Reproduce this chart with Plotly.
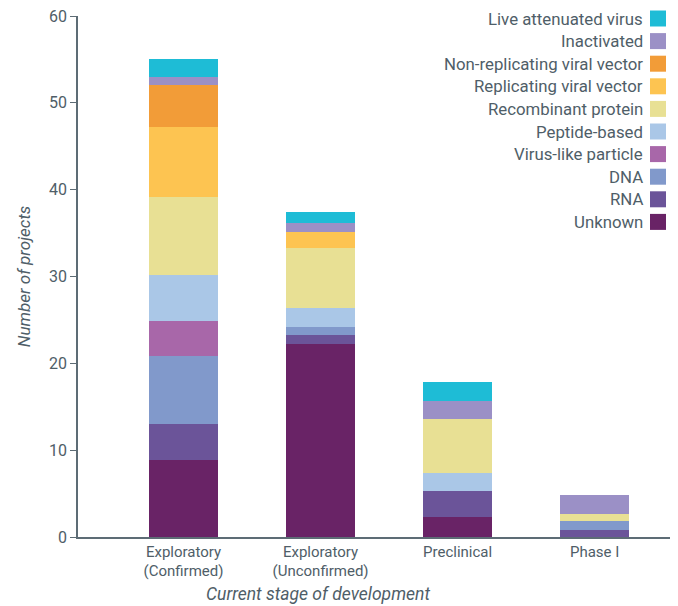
import plotly.graph_objects as go

categories = ["Exploratory<br>(Confirmed)", "Exploratory<br>(Unconfirmed)", "Preclinical", "Phase I"]

series_names = ["Unknown", "RNA", "DNA", "Virus-like particle", "Peptide-based",
                "Recombinant protein", "Replicating viral vector",
                "Non-replicating viral vector", "Inactivated", "Live attenuated virus"]

unknown = [8.9, 22.2, 2.3, 0.0]
rna = [4.1, 1.1, 3.0, 0.8]
dna = [7.8, 0.9, 0.0, 1.0]
vlp = [4.1, 0.0, 0.0, 0.0]
peptide = [5.3, 2.2, 2.1, 0.0]
recombinant = [9.0, 6.9, 6.2, 0.9]
replicating = [8.0, 1.8, 0.0, 0.0]
nonreplicating = [4.8, 0.0, 0.0, 0.0]
inactivated = [1.0, 1.1, 2.1, 2.1]
live = [2.1, 1.2, 2.1, 0.0]

series_values = [unknown, rna, dna, vlp, peptide, recombinant, replicating,
                 nonreplicating, inactivated, live]

colors = ["#692366", "#6b5499", "#8199cb", "#a867a9", "#aac7e7",
          "#e8e094", "#fdc451", "#f29c38", "#9b90c6", "#1ebcd6"]

text_color = "#4f5e68"
axis_color = "#5d6c75"
font_family = "Roboto"

# page offset (browser body margin)
OFF = 8
W, H = 678 - OFF, 606 - OFF
PL, PR, PT, PB = 78, 670, 16, 537  # plot area in page pixels

fig = go.Figure()
for name, vals, col in zip(series_names, series_values, colors):
    fig.add_trace(go.Bar(x=list(range(len(categories))), y=vals, name=name,
                         marker=dict(color=col, line=dict(width=0)),
                         width=0.5, showlegend=False))

pw, ph = PR - PL, PB - PT
def px(x):
    return (x - PL) / pw
def py(y):
    return 1 - (y - PT) / ph

annotations = []
shapes = []
legend_top = 18.5
legend_step = 22.6
for i, (name, col) in enumerate(zip(series_names[::-1], colors[::-1])):
    yc = legend_top + i * legend_step
    annotations.append(dict(xref="paper", yref="paper",
                            x=px(644), y=py(yc),
                            text=name, showarrow=False, xanchor="right", yanchor="middle",
                            borderpad=0,
                            font=dict(family=font_family, size=16.8, color=text_color)))
    shapes.append(dict(type="rect", xref="paper", yref="paper",
                       x0=px(650), x1=px(666),
                       y0=py(yc - 8), y1=py(yc + 8),
                       fillcolor=col, line=dict(width=0)))

# x-axis title, centred under the category labels as in the reference
annotations.append(dict(xref="paper", yref="paper", x=px(318), y=py(594),
                        text="<i>Current stage of development</i>", showarrow=False,
                        xanchor="center", yanchor="middle", borderpad=0,
                        font=dict(family=font_family, size=17.5, color=text_color)))

fig.update_layout(
    barmode="stack",
    width=W, height=H,
    margin=dict(l=PL - OFF, r=W - (PR - OFF), t=PT - OFF, b=H - (PB - OFF), pad=0,
                autoexpand=False),
    paper_bgcolor="white", plot_bgcolor="white",
    font=dict(family=font_family, size=15, color=text_color),
    annotations=annotations, shapes=shapes,
    xaxis=dict(range=[-0.77, 3.55], tickmode="array", automargin=False,
               tickvals=list(range(len(categories))), ticktext=categories,
               showline=True, linecolor=axis_color, linewidth=1.5,
               ticks="", showgrid=False, zeroline=False,
               tickfont=dict(size=15, color=text_color)),
    yaxis=dict(range=[0, 60], dtick=10, showline=True, linecolor=axis_color,
               linewidth=1.5, ticks="outside", ticklen=6, tickcolor=axis_color,
               showgrid=False, zeroline=False, ticklabeloverflow="allow",
               automargin=False,
               tickfont=dict(size=16, color=text_color),
               title=dict(text="<i>Number of projects</i>",
                          font=dict(size=17, color=text_color), standoff=14)),
)

fig.write_html("out.html")
